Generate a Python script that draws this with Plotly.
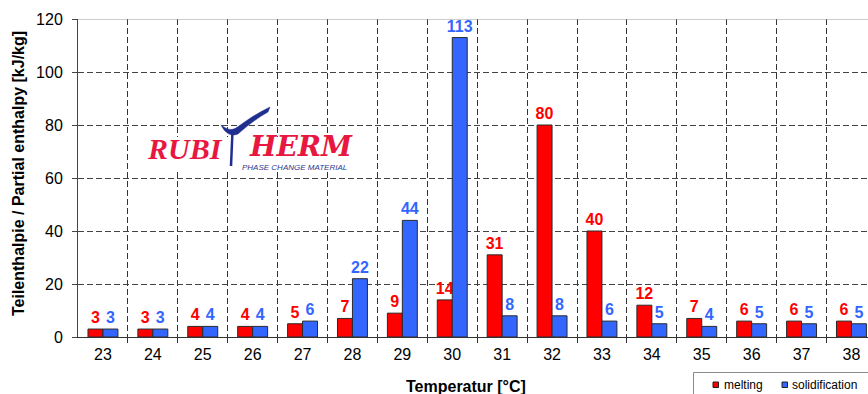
import plotly.graph_objects as go

# Partial enthalpy per 1 K temperature step, melting vs. solidification
temperatures = [23, 24, 25, 26, 27, 28, 29, 30, 31, 32, 33, 34, 35, 36, 37, 38]
melting = [3, 3, 4, 4, 5, 7, 9, 14, 31, 80, 40, 12, 7, 6, 6, 6]
solidification = [3, 3, 4, 4, 6, 22, 44, 113, 8, 8, 6, 5, 4, 5, 5, 5]
series_names = ["melting", "solidification"]

RED = "#ff0000"
BLUE = "#3366ff"
FONT = "Arial, Liberation Sans, sans-serif"

W, H = 868, 394
ML, MR, MT, MB = 78, 0, 19, 57
PW, PH = W - ML - MR, H - MT - MB
CAT_W = 49.9  # pixels per temperature step


def xp(x):
    """pixel column -> paper x"""
    return (x - ML) / PW


def yp(y):
    """pixel row -> paper y"""
    return (H - MB - y) / PH


idx = list(range(len(temperatures)))

fig = go.Figure()
for name, vals, col in [(series_names[0], melting, RED), (series_names[1], solidification, BLUE)]:
    fig.add_trace(go.Bar(
        x=idx, y=vals, name=name,
        marker=dict(color=col, line=dict(color="#2a2a2a", width=1)),
        text=[str(v) for v in vals], textposition="outside",
        textfont=dict(family=FONT, size=16, color=col, weight="bold"),
        constraintext="none", cliponaxis=False, showlegend=False,
    ))

fig.update_layout(
    width=W, height=H, autosize=False,
    margin=dict(l=ML, r=MR, t=MT, b=MB, pad=0),
    paper_bgcolor="white", plot_bgcolor="white",
    barmode="group", bargap=0.4, bargroupgap=0,
    font=dict(family=FONT, color="black"),
    showlegend=False,
)

fig.update_xaxes(
    range=[-0.5, -0.5 + PW / CAT_W],
    tickmode="array", tickvals=idx, ticktext=[str(t) for t in temperatures],
    ticks="", showgrid=False, zeroline=False, ticklabelstandoff=3,
    tickfont=dict(family=FONT, size=16, color="black"),
    showline=True, linecolor="#333333", linewidth=1,
    minor=dict(tickmode="array", tickvals=[i + 0.5 for i in idx],
               showgrid=True, gridcolor="#333333", griddash="6px,3px", gridwidth=1,
               ticks="outside", ticklen=5, tickcolor="#333333"),
)
fig.update_yaxes(
    range=[0, 120], tickmode="linear", tick0=0, dtick=20,
    showgrid=True, gridcolor="#444444", griddash="6px,3px", gridwidth=1,
    zeroline=False, ticks="outside", ticklen=5, tickcolor="#444444",
    ticklabelstandoff=6,
    tickfont=dict(family=FONT, size=16, color="black"),
    showline=True, linecolor="#444444", linewidth=1,
)

shapes = []
# solid top border of the plot area
shapes.append(dict(type="line", xref="paper", yref="y", x0=0, x1=1, y0=120, y1=120,
                   line=dict(color="#9a9a9a", width=1), layer="above"))

# logo backdrop
shapes.append(dict(type="rect", xref="paper", yref="paper",
                   x0=xp(143), x1=xp(356), y0=yp(137), y1=yp(169),
                   fillcolor="white", line=dict(width=0), layer="above"))


def path_px(points_cmds):
    out = []
    for cmd in points_cmds:
        if isinstance(cmd, str):
            out.append(cmd)
        else:
            out.append(f"{xp(cmd[0]):.5f},{yp(cmd[1]):.5f}")
    return " ".join(out)


LOGO_BLUE = "#1f2f8f"
swoosh = path_px(["M", (221, 125), "C", (226, 129), (231, 131), (236, 128),
                  "C", (246, 121), (257, 113), (270, 107), "L", (268, 112),
                  "C", (257, 118), (247, 126), (238, 134),
                  "C", (231, 137), (225, 133), (221, 125), "Z"])
shapes.append(dict(type="path", xref="paper", yref="paper", path=swoosh,
                   fillcolor=LOGO_BLUE, line=dict(color=LOGO_BLUE, width=0.5), layer="above"))
shapes.append(dict(type="line", xref="paper", yref="paper",
                   x0=xp(232.5), x1=xp(231), y0=yp(131), y1=yp(166),
                   line=dict(color=LOGO_BLUE, width=2.5), layer="above"))

# legend box
shapes.append(dict(type="rect", xref="paper", yref="paper",
                   x0=xp(693.5), x1=xp(900), y0=yp(372.5), y1=yp(420),
                   line=dict(color="#8a8a8a", width=1), fillcolor="white", layer="above"))
for sx, col in [(713, RED), (782, BLUE)]:
    shapes.append(dict(type="rect", xref="paper", yref="paper",
                       x0=xp(sx), x1=xp(sx + 5.5), y0=yp(382), y1=yp(387.5),
                       line=dict(color="#222222", width=1), fillcolor=col, layer="above"))

annotations = []
# axis titles
annotations.append(dict(text="<b>Teilenthalpie / Partial enthalpy [kJ/kg]</b>",
                        xref="paper", yref="paper", x=xp(18), y=yp(174),
                        textangle=-90, showarrow=False, xanchor="center", yanchor="middle",
                        font=dict(family=FONT, size=16, color="black")))
annotations.append(dict(text="<b>Temperatur [°C]</b>",
                        xref="paper", yref="paper", x=xp(466), y=yp(386),
                        showarrow=False, xanchor="center", yanchor="middle",
                        font=dict(family=FONT, size=16, color="black")))

# logo lettering
LOGO_RED = "#e8173f"
annotations.append(dict(text="RUBI", xref="paper", yref="paper",
                        x=xp(146), y=yp(148), showarrow=False,
                        xanchor="left", yanchor="middle", borderpad=0,
                        font=dict(family="Liberation Serif, Times New Roman, serif",
                                  size=30, color=LOGO_RED, style="italic", weight="bold")))
annotations.append(dict(text="HERM", xref="paper", yref="paper",
                        x=xp(354), y=yp(146.5), showarrow=False,
                        xanchor="right", yanchor="middle", borderpad=0,
                        font=dict(family="DejaVu Serif, serif",
                                  size=28, color=LOGO_RED, style="italic", weight="bold")))
annotations.append(dict(text="PHASE CHANGE MATERIAL", xref="paper", yref="paper",
                        x=xp(294), y=yp(167.5), showarrow=False,
                        xanchor="center", yanchor="middle", borderpad=0,
                        font=dict(family=FONT, size=8, color="#2b3990", style="italic")))

# legend entries
for tx, label in [(722, series_names[0]), (790, series_names[1])]:
    annotations.append(dict(text=label, xref="paper", yref="paper",
                            x=xp(tx), y=yp(385), showarrow=False,
                            xanchor="left", yanchor="middle",
                            font=dict(family=FONT, size=12, color="black")))

fig.update_layout(shapes=shapes, annotations=annotations)

fig.write_html("out.html")
